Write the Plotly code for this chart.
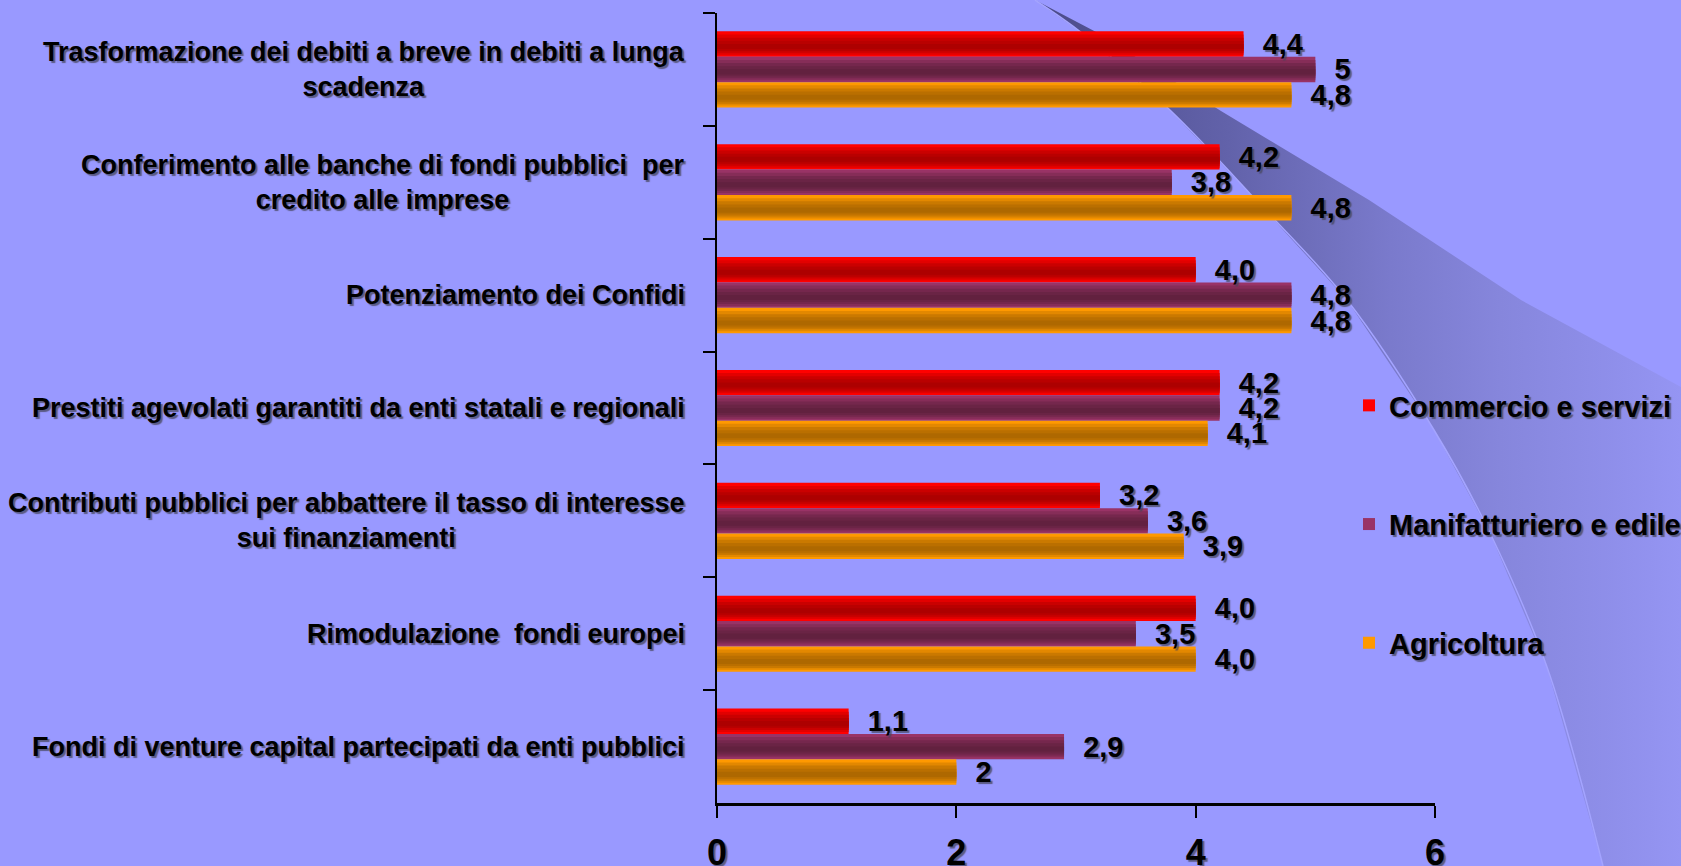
import plotly.graph_objects as go

# ---- data -------------------------------------------------------------
categories = [
    "Trasformazione dei debiti a breve in debiti a lunga<br>scadenza",
    "Conferimento alle banche di fondi pubblici  per<br>credito alle imprese",
    "Potenziamento dei Confidi",
    "Prestiti agevolati garantiti da enti statali e regionali",
    "Contributi pubblici per abbattere il tasso di interesse<br>sui finanziamenti",
    "Rimodulazione  fondi europei",
    "Fondi di venture capital partecipati da enti pubblici",
]
series_names = ["Commercio e servizi", "Manifatturiero e edile", "Agricoltura"]
commercio = [4.4, 4.2, 4.0, 4.2, 3.2, 4.0, 1.1]
manifatturiero = [5, 3.8, 4.8, 4.2, 3.6, 3.5, 2.9]
agricoltura = [4.8, 4.8, 4.8, 4.1, 3.9, 4.0, 2]
x_ticks = [0, 2, 4, 6]

# ---- styling ----------------------------------------------------------
W, H = 1681, 866
BG = "#9999FF"
FONT = "Liberation Sans, Arial, Helvetica, sans-serif"
NARROW = "Liberation Sans Narrow, Arial Narrow, Liberation Sans, sans-serif"
SHADOW = "2px 2px 1px rgba(70,70,90,0.75)"
NBSP = "\u00a0"

# edge colour / core colour of each cylinder-shaded bar
palette = [("#FF0000", "#AD0000"), ("#993366", "#62213F"), ("#FF9900", "#AE6800")]
BAR_W = 0.225
# (relative width, colour mix towards the core)
layers = [(1.0, 0.0), (0.8, 0.35), (0.6, 0.65), (0.4, 0.85), (0.2, 1.0)]


def hex_rgb(h):
    h = h.lstrip("#")
    return tuple(int(h[k:k + 2], 16) for k in (0, 2, 4))


def mix(c1, c2, t):
    a, b = hex_rgb(c1), hex_rgb(c2)
    r = [round(a[k] + (b[k] - a[k]) * t) for k in range(3)]
    return "rgb({},{},{})".format(*r)


def fmt(v):
    return str(v).replace(".", ",")


fig = go.Figure()

# ---- background swoosh (pixel-space decoration axes) ------------------
upper_edge = [(1035, 0), (1098, 33), (1221, 111), (1369, 200), (1521, 300), (1681, 387)]
lower_edge = [(1035, 0), (1082, 33), (1171, 111), (1256, 200), (1347, 300),
              (1434, 430), (1490, 533), (1547, 667), (1603, 866)]
poly = upper_edge + [(1681, 866)] + lower_edge[::-1]
fig.add_trace(go.Scatter(
    x=[p[0] for p in poly], y=[p[1] for p in poly],
    mode="lines", fill="toself", line=dict(width=0),
    fillgradient=dict(
        type="horizontal", start=1035, stop=1681,
        colorscale=[[0.0, "#4a4a88"], [0.30, "#6262aa"], [0.55, "#7a7acc"],
                    [0.72, "#8686dc"], [0.88, "#8e8ee9"], [1.0, "#9595f3"]],
    ),
    hoverinfo="skip", showlegend=False, xaxis="x", yaxis="y",
))
fig.add_trace(go.Scatter(
    x=[p[0] for p in lower_edge], y=[p[1] for p in lower_edge],
    mode="lines", line=dict(color="#a4a4ff", width=1.5, shape="spline"),
    hoverinfo="skip", showlegend=False, xaxis="x", yaxis="y",
))

# ---- bars -------------------------------------------------------------
all_values = [commercio, manifatturiero, agricoltura]
for i, (name, vals, (edge, core)) in enumerate(zip(series_names, all_values, palette)):
    center = (i - 1) * BAR_W
    for j, (f, t) in enumerate(layers):
        w = BAR_W * f
        c = center + 0.12 * BAR_W * (1 - f)
        fig.add_trace(go.Bar(
            x=vals, y=categories, orientation="h",
            width=w, offset=c - w / 2,
            marker=dict(color=mix(edge, core, t), line=dict(width=0)),
            name=name, legendgroup=name, showlegend=(j == 0),
            hoverinfo="skip", xaxis="x2", yaxis="y2",
        ))

# value labels drawn on top of every bar
for i, vals in enumerate(all_values):
    center = (i - 1) * BAR_W
    fig.add_trace(go.Bar(
        x=vals, y=categories, orientation="h",
        width=BAR_W, offset=center - BAR_W / 2,
        marker=dict(color="rgba(0,0,0,0)", line=dict(width=0)),
        text=[NBSP * 2 + fmt(v) for v in vals], textposition="outside",
        textfont=dict(family=FONT, size=29, color="black", weight="bold", shadow=SHADOW),
        constraintext="none", cliponaxis=False,
        showlegend=False, hoverinfo="skip", xaxis="x2", yaxis="y2",
    ))

# ---- category labels (centred multi-line) ----------------------------
annotations = [
    dict(x=0, xref="x2 domain", y=cat, yref="y2", xanchor="right", xshift=-30,
         text=cat, align="center", showarrow=False,
         font=dict(family=FONT, size=27, color="black", weight="bold", shadow=SHADOW))
    for cat in categories
]

fig.update_layout(
    width=W, height=H, autosize=False,
    margin=dict(l=0, r=0, t=0, b=0, pad=0, autoexpand=False),
    paper_bgcolor=BG, plot_bgcolor="rgba(0,0,0,0)",
    barmode="overlay",
    font=dict(family=FONT, color="black"),
    xaxis=dict(domain=[0, 1], range=[0, W], visible=False, fixedrange=True, automargin=False),
    yaxis=dict(domain=[0, 1], range=[H, 0], visible=False, fixedrange=True, automargin=False),
    xaxis2=dict(
        domain=[717 / W, 1435 / W], range=[0, 6], anchor="y2", automargin=False,
        tickvals=x_ticks, ticktext=[str(v) for v in x_ticks],
        ticks="outside", ticklen=12, tickwidth=2, tickcolor="black",
        showline=True, linewidth=3, linecolor="black",
        showgrid=False, zeroline=False, ticklabelstandoff=4,
        tickfont=dict(family=NARROW, size=36, color="black", weight="bold", shadow=SHADOW),
    ),
    yaxis2=dict(
        domain=[1 - 803 / H, 1 - 13 / H], anchor="x2", automargin=False,
        type="category", categoryorder="array", categoryarray=categories,
        autorange="reversed", tickson="boundaries",
        ticks="outside", ticklen=12, tickwidth=2, tickcolor="black",
        showline=True, linewidth=2, linecolor="black",
        showgrid=False, zeroline=False, showticklabels=False,
    ),
    legend=dict(
        x=1349 / W, y=1 - 380 / H, xanchor="left", yanchor="top",
        traceorder="grouped", tracegroupgap=78,
        bgcolor="rgba(0,0,0,0)",
        font=dict(family=FONT, size=29, color="black", weight="bold", shadow=SHADOW),
    ),
    annotations=annotations,
    showlegend=True,
)

fig.write_html("out.html")
